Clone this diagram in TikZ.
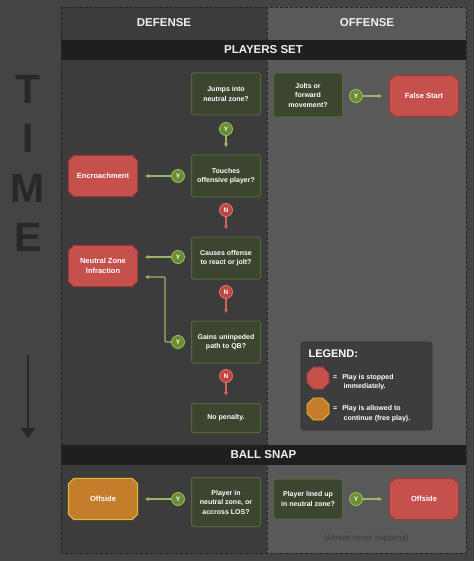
\documentclass[tikz,border=0pt]{standalone}
\usepackage{fontspec}
\setmainfont{Liberation Sans}
\usetikzlibrary{calc,arrows.meta,shapes.geometric,backgrounds}

\definecolor{bgcol}{HTML}{444444}
\definecolor{defcol}{HTML}{3C3C3C}
\definecolor{offcol}{HTML}{595959}
\definecolor{barcol}{HTML}{1F1F1F}
\definecolor{framecol}{HTML}{242424}
\definecolor{qfill}{HTML}{3B4530}
\definecolor{qborder}{HTML}{56663E}
\definecolor{stopfill}{HTML}{C6504C}
\definecolor{stopborder}{HTML}{9E3836}
\definecolor{freefill}{HTML}{C47E2B}
\definecolor{freeborder}{HTML}{E3BC3A}
\definecolor{yfill}{HTML}{6A8C33}
\definecolor{yborder}{HTML}{A3BF62}
\definecolor{nfill}{HTML}{BF4640}
\definecolor{nborder}{HTML}{DE7A72}
\definecolor{yline}{HTML}{9CB468}
\definecolor{nline}{HTML}{D0625B}
\definecolor{timecol}{HTML}{282828}
\definecolor{notecol}{HTML}{3A3A3A}

\begin{document}
\begin{tikzpicture}
	[x=1pt,y=-1pt,
	qnode/.style={draw=qborder,fill=qfill,line width=1pt,rounded corners=2pt,minimum width=69pt,minimum height=42pt,align=center,text=white,font=\fontsize{7}{9.5}\selectfont\bfseries,inner sep=2pt},
	pnode/.style={minimum width=69pt,minimum height=41pt,align=center,text=white,font=\fontsize{7.5}{10}\selectfont\bfseries,inner sep=1pt},
	stopshape/.style={draw=stopborder,fill=stopfill,line width=1pt},
	freeshape/.style={draw=freeborder,fill=freefill,line width=1pt},
	ycirc/.style={circle,draw=yborder,fill=yfill,line width=0.8pt,minimum size=13pt,inner sep=0pt,text=white,font=\fontsize{6.5}{6.5}\selectfont\bfseries},
	ncirc/.style={ycirc,draw=nborder,fill=nfill},
	header/.style={text=white!94!black,font=\fontsize{11.5}{12}\selectfont\bfseries},
	timeletter/.style={text=timecol,font=\fontsize{41}{41}\selectfont\bfseries},
	]
	\tikzset{yes arrow/.style={draw=yline,line width=1.1pt,-{Latex[length=4pt,width=4.5pt]},shorten >=7pt}}
	\tikzset{no arrow/.style={draw=nline,line width=1.1pt,-{Latex[length=4pt,width=4.5pt]},shorten >=7pt}}

	% background and columns
	\begin{scope}[on background layer]
	\fill[bgcol] (0,0) rectangle (474,561);
	\fill[defcol] (61,7) rectangle (267,553);
	\fill[offcol] (267,7) rectangle (466,553);
	\draw[framecol,dash pattern=on 3pt off 2pt,line width=0.8pt] (267,7) -- (267,553);
	\fill[barcol] (61,40) rectangle (466,60);
	\fill[barcol] (61,445) rectangle (466,465);
	\draw[framecol,dash pattern=on 3pt off 2pt,line width=0.8pt] (61,7) rectangle (466,553);
	\end{scope}

	\node[header] (def) at (164,23) {DEFENSE};
	\node[header] (off) at (367,23) {OFFENSE};
	\node[header] (pset) at (263.5,50) {PLAYERS SET};
	\node[header] (snap) at (263.5,455) {BALL SNAP};

	% time
	\node[timeletter] (t-1) at (28,89) {T};
	\node[timeletter] (t-2) at (28,138) {I};
	\node[timeletter] (t-3) at (28,188) {M};
	\node[timeletter] (t-4) at (28,237) {E};
	\coordinate (ta) at (28,355);
	\coordinate (tb) at (28,438);
	\draw[timecol,line width=2pt,-{Triangle[length=10pt,width=15pt]}] (ta) -- (tb);

	% players set
	\node[qnode] (jump) at (226,94) {Jumps into\\neutral zone?};
	\node[qnode,minimum height=44pt] (jolt) at (308,95) {Jolts or\\forward\\movement?};
	\node[pnode] (fstart) at (424,96) {False Start};
	\node[qnode] (touch) at (226,176) {Touches\\offensive player?};
	\node[pnode] (encr) at (103,176) {Encroachment};
	\node[qnode] (cause) at (226,258) {Causes offense\\to react or jolt?};
	\node[pnode] (nzi) at (103,266) {Neutral Zone\\Infraction};
	\node[qnode] (gain) at (226,342) {Gains uninpeded\\path to QB?};
	\node[qnode,minimum height=29pt] (nopen) at (226,418) {No penalty.};

	\node[ycirc] (y-1) at (356,96) {Y};
	\node[ycirc] (y-2) at (226,129) {Y};
	\node[ycirc] (y-3) at (178,176) {Y};
	\node[ncirc] (n-1) at (226,210) {N};
	\node[ycirc] (y-4) at (178,257) {Y};
	\node[ncirc] (n-2) at (226,292) {N};
	\node[ycirc] (y-5) at (178,342) {Y};
	\node[ncirc] (n-3) at (226,376) {N};
	\coordinate (bend) at (165,277);

	\path[yes arrow] (y-1) -- (fstart);
	\path[yes arrow] (y-2) -- (touch);
	\path[yes arrow] (y-3) -- (encr);
	\path[no arrow] (n-1) -- (cause);
	\path[yes arrow] (y-4) -- (y-4 -| nzi.east);
	\path[no arrow] (n-2) -- (gain);
	\path[yes arrow,rounded corners=1pt] (y-5) -| (bend) -- (bend -| nzi.east);
	\path[no arrow] (n-3) -- (nopen);

	% legend
	\node[draw=black!80,fill=black!76,line width=0.8pt,rounded corners=3pt,minimum width=131pt,minimum height=88pt] (legend) at (366.5,386) {};
	\node[anchor=west,text=white,font=\fontsize{11}{11}\selectfont\bfseries] (ltitle) at (305,354) {LEGEND:};
	\node[regular polygon,regular polygon sides=8,minimum size=24pt,draw=stopborder,fill=stopfill,line width=0.8pt] (lstop) at (318,378) {};
	\node[regular polygon,regular polygon sides=8,minimum size=24pt,draw=freeborder,fill=freefill,line width=0.8pt] (lfree) at (318,409) {};
	\node[anchor=north west,align=left,text=white,inner sep=0pt,font=\fontsize{7}{9.5}\selectfont\bfseries] (ltext-1) at (333,374) {=\hspace{5pt}Play is stopped\\\hspace{10.5pt}immediately.};
	\node[anchor=north west,align=left,text=white,inner sep=0pt,font=\fontsize{7}{9.5}\selectfont\bfseries] (ltext-2) at (333,405.5) {=\hspace{5pt}Play is allowed to\\\hspace{10.5pt}continue (free play).};

	% ball snap
	\node[pnode] (offd) at (103,499) {Offside};
	\node[qnode,minimum height=49pt] (snapq) at (226,502) {Player in\\neutral zone, or\\accross LOS?};
	\node[qnode,minimum height=40pt] (lined) at (308,499) {Player lined up\\in neutral zone?};
	\node[pnode] (offo) at (424,499) {Offside};
	\node[ycirc] (y-6) at (178,499) {Y};
	\node[ycirc] (y-7) at (356,499) {Y};
	\path[yes arrow] (y-6) -- (offd);
	\path[yes arrow] (y-7) -- (offo);
	\node[text=notecol,font=\fontsize{8}{9}\selectfont] (rare) at (366,538) {(Almost never happens)};

	% octagon outlines behind the penalty texts
	\begin{pgfonlayer}{background}
	\foreach \n/\s in {fstart/stopshape,encr/stopshape,nzi/stopshape,offo/stopshape,offd/freeshape}
	{
		\draw[\s] ([xshift=5.5pt]\n.north west) -- ([xshift=-5.5pt]\n.north east) -- ([yshift=-5.5pt]\n.north east)
			-- ([yshift=5.5pt]\n.south east) -- ([xshift=-5.5pt]\n.south east) -- ([xshift=5.5pt]\n.south west)
			-- ([yshift=5.5pt]\n.south west) -- ([yshift=-5.5pt]\n.north west) -- cycle;
	}
	\end{pgfonlayer}
\end{tikzpicture}
\end{document}
